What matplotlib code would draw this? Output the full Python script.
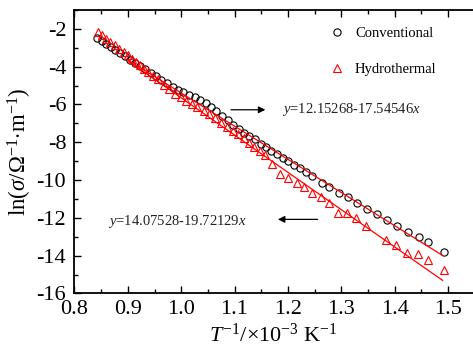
import matplotlib

matplotlib.use("Agg")
import matplotlib.pyplot as plt
from matplotlib.lines import Line2D
from matplotlib.ticker import MultipleLocator
import numpy as np

plt.rcParams["font.family"] = ["Liberation Serif", "DejaVu Serif"]
plt.rcParams["mathtext.fontset"] = "custom"
plt.rcParams["mathtext.rm"] = "Liberation Serif"
plt.rcParams["mathtext.it"] = "Liberation Serif:italic"
plt.rcParams["axes.unicode_minus"] = False

# measured ln(sigma) vs 1000/T
conv_x = [0.842, 0.851, 0.859, 0.868, 0.876, 0.885, 0.895, 0.904, 0.913, 0.923,
          0.932, 0.943, 0.953, 0.963, 0.973, 0.984, 0.994, 1.004, 1.015, 1.025,
          1.035, 1.046, 1.056, 1.066, 1.077, 1.087, 1.097, 1.108, 1.118, 1.128,
          1.139, 1.149, 1.159, 1.169, 1.180, 1.190, 1.200, 1.212, 1.223, 1.234,
          1.245, 1.264, 1.278, 1.295, 1.312, 1.329, 1.348, 1.367, 1.385, 1.405,
          1.425, 1.445, 1.462, 1.493]
conv_y = [-2.47, -2.65, -2.81, -2.97, -3.13, -3.29, -3.46, -3.63, -3.81, -3.98,
          -4.14, -4.32, -4.51, -4.69, -4.88, -5.07, -5.23, -5.36, -5.49, -5.62,
          -5.78, -5.94, -6.15, -6.37, -6.61, -6.84, -7.08, -7.30, -7.51, -7.69,
          -7.85, -8.07, -8.25, -8.44, -8.62, -8.81, -8.97, -9.18, -9.37, -9.58,
          -9.79, -10.16, -10.37, -10.67, -10.92, -11.24, -11.53, -11.81, -12.09, -12.41,
          -12.73, -13.01, -13.28, -13.82]

hydro_x = [0.844, 0.851, 0.859, 0.867, 0.875, 0.883, 0.892, 0.900, 0.907, 0.915,
           0.923, 0.931, 0.938, 0.947, 0.956, 0.967, 0.978, 0.988, 0.999, 1.009,
           1.020, 1.030, 1.042, 1.053, 1.064, 1.074, 1.085, 1.097, 1.107, 1.118,
           1.127, 1.137, 1.147, 1.157, 1.170, 1.185, 1.201, 1.217, 1.231, 1.245,
           1.262, 1.278, 1.294, 1.311, 1.328, 1.346, 1.383, 1.403, 1.424, 1.444,
           1.462, 1.492]
hydro_y = [-2.16, -2.34, -2.52, -2.69, -2.87, -3.05, -3.22, -3.40, -3.58, -3.75,
           -3.93, -4.11, -4.28, -4.48, -4.66, -4.96, -5.19, -5.43, -5.61, -5.79,
           -5.96, -6.14, -6.32, -6.49, -6.72, -6.97, -7.17, -7.38, -7.55, -7.79,
           -8.03, -8.23, -8.46, -8.70, -9.17, -9.66, -9.88, -10.15, -10.39, -10.66,
           -10.89, -11.21, -11.76, -11.76, -12.03, -12.45, -13.15, -13.45, -13.85, -13.93,
           -14.21, -14.77]

# linear fits y = a + b*x
conv_fit = (12.15268, -17.54546)
hydro_fit = (14.07528, -19.72129)
fit_range = [0.90, 1.49]

fig = plt.figure(figsize=(4.73, 3.51), dpi=100)
ax = fig.add_axes([0.1575, 0.164, 0.8425, 0.8075])

ax.plot(conv_x, conv_y, linestyle="none", marker="o", markersize=5.2,
        markerfacecolor="none", markeredgecolor="black", markeredgewidth=0.8)
ax.plot(hydro_x, hydro_y, linestyle="none", marker="^", markersize=5.8,
        markerfacecolor="none", markeredgecolor="red", markeredgewidth=0.8)

fx = np.array(fit_range)
ax.plot(fx, conv_fit[0] + conv_fit[1] * fx, color="red", linewidth=0.9)
ax.plot(fx, hydro_fit[0] + hydro_fit[1] * fx, color="red", linewidth=0.9)

ax.annotate("", xy=(1.163, -6.28), xytext=(1.088, -6.28),
            arrowprops=dict(arrowstyle="-|>", color="black", lw=0.9,
                            mutation_scale=10))
ax.text(1.189, -6.28, r"$y$=12.15268-17.54546$x$", fontsize=10.5,
        va="center", ha="left", color="#222222")
ax.annotate("", xy=(1.176, -12.08), xytext=(1.261, -12.08),
            arrowprops=dict(arrowstyle="-|>", color="black", lw=0.9,
                            mutation_scale=10))
ax.text(0.863, -12.2, r"$y$=14.07528-19.72129$x$", fontsize=10.5,
        va="center", ha="left", color="#222222")

handles = [
    Line2D([], [], linestyle="none", marker="o", markersize=5.2,
           markerfacecolor="none", markeredgecolor="black", markeredgewidth=0.8),
    Line2D([], [], linestyle="none", marker="^", markersize=5.8,
           markerfacecolor="none", markeredgecolor="red", markeredgewidth=0.8),
]
ax.legend(handles, ["Conventional", "Hydrothermal"], loc="upper left",
          bbox_to_anchor=(0.64, 0.94), frameon=False, fontsize=10.5,
          numpoints=1, handlelength=1.0, handletextpad=0.75,
          labelspacing=1.55, borderpad=0, borderaxespad=0)

ax.set_xlim(0.8, 1.547)
ax.set_ylim(-16, -1)
ax.xaxis.set_minor_locator(MultipleLocator(0.05))
ax.yaxis.set_major_locator(MultipleLocator(2))
ax.yaxis.set_minor_locator(MultipleLocator(1))
ax.set_xticks(np.arange(0.8, 1.51, 0.1))
ax.set_xticklabels(["0.8", "0.9", "1.0", "1.1", "1.2", "1.3", "1.4", "1.5"])
ax.tick_params(which="both", direction="in", top=True, right=False,
               labelsize=16, width=1.0)
ax.tick_params(axis="y", pad=6)
ax.tick_params(axis="x", pad=5)
ax.tick_params(which="major", length=5)
ax.tick_params(which="minor", length=3)
ax.spines["right"].set_visible(False)
for s in ("left", "bottom", "top"):
    ax.spines[s].set_linewidth(1.3)

ax.set_xlabel(r"$T^{-1}$/×10$^{-3}$ K$^{-1}$", fontsize=16, labelpad=3)
ax.set_ylabel(r"ln($\sigma$/$\Omega^{-1}$$\cdot$m$^{-1}$)", fontsize=16.5,
              labelpad=2)

fig.savefig("out.png", dpi=100)
